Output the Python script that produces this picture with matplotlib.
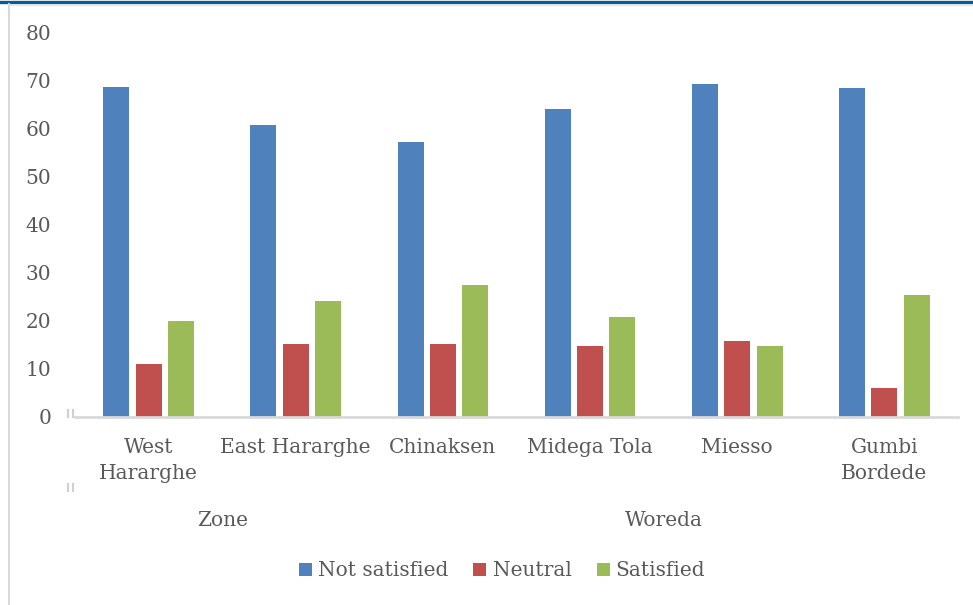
import matplotlib
matplotlib.use("Agg")
import matplotlib.pyplot as plt
from matplotlib.patches import Patch
from matplotlib.lines import Line2D
import numpy as np

categories = ["West\nHararghe", "East Hararghe", "Chinaksen", "Midega Tola", "Miesso", "Gumbi\nBordede"]
groups = ["Zone", "Woreda"]
group_sizes = [2, 4]
series_names = ["Not satisfied", "Neutral", "Satisfied"]
not_satisfied = [68.5, 60.6, 57.1, 64.1, 69.1, 68.3]
neutral = [11.0, 15.1, 15.1, 14.7, 15.8, 6.0]
satisfied = [19.9, 24.1, 27.4, 20.7, 14.7, 25.3]
colors = ["#4F81BD", "#C0504D", "#9BBB59"]
yticks = [0, 10, 20, 30, 40, 50, 60, 70, 80]

text_color = "#595959"
font = "DejaVu Serif"
plt.rcParams["font.family"] = [font]

W, H = 973, 605
fig = plt.figure(figsize=(W / 100, H / 100), dpi=100)
ax = fig.add_axes([75 / W, 1 - 417 / H, (958 - 75) / W, (417 - 32) / H])

x = np.arange(len(categories))
bw = 0.177
step = 0.22
for i, (vals, c) in enumerate(zip([not_satisfied, neutral, satisfied], colors)):
    ax.bar(x + (i - 1) * step, vals, width=bw, color=c, label=series_names[i], zorder=3)

ax.set_xlim(-0.5, len(categories) - 0.5)
ax.set_ylim(0, 80)
ax.set_yticks(yticks)
ax.set_xticks(x)
ax.set_xticklabels(categories, fontsize=14.5, color=text_color, linespacing=1.45, va="top")
ax.tick_params(axis="x", length=0, pad=15)
ax.tick_params(axis="y", length=0, pad=17, labelsize=14.5, labelcolor=text_color)

for s in ["top", "right", "left"]:
    ax.spines[s].set_visible(False)
ax.spines["bottom"].set_color("#D9D9D9")
ax.spines["bottom"].set_linewidth(2)
ax.spines["bottom"].set_zorder(4)

# group labels under the category labels
trans = ax.get_xaxis_transform()
start = 0
for g, n in zip(groups, group_sizes):
    center = start + (n - 1) / 2
    ax.text(center, -0.27, g, transform=trans, ha="center", va="center",
            fontsize=14.5, color=text_color)
    start += n

# small divider marks of the multi-level axis
for yy in [(410, 417), (484, 491)]:
    for xx in [68, 73]:
        fig.add_artist(Line2D([xx / W, xx / W], [1 - yy[0] / H, 1 - yy[1] / H],
                              color="#D0D0D0", lw=1.5))

# frame decorations
fig.add_artist(Line2D([0, 1], [1 - 1.5 / H, 1 - 1.5 / H], color="#0A5A96", lw=2.4))
fig.add_artist(Line2D([9 / W, 1], [1 - 4.5 / H, 1 - 4.5 / H], color="#E6E6E6", lw=1))
fig.add_artist(Line2D([9 / W, 9 / W], [0, 1 - 4 / H], color="#D9D9D9", lw=1.5))

handles = [Patch(facecolor=c, edgecolor="none") for c in colors]
fig.legend(handles, series_names, loc="center", bbox_to_anchor=(502 / W, 1 - 571 / H),
           ncol=3, frameon=False, fontsize=14.5, labelcolor=text_color,
           handlelength=0.65, handleheight=0.65, handletextpad=0.3, columnspacing=1.25)

fig.savefig("out.png", dpi=100)
